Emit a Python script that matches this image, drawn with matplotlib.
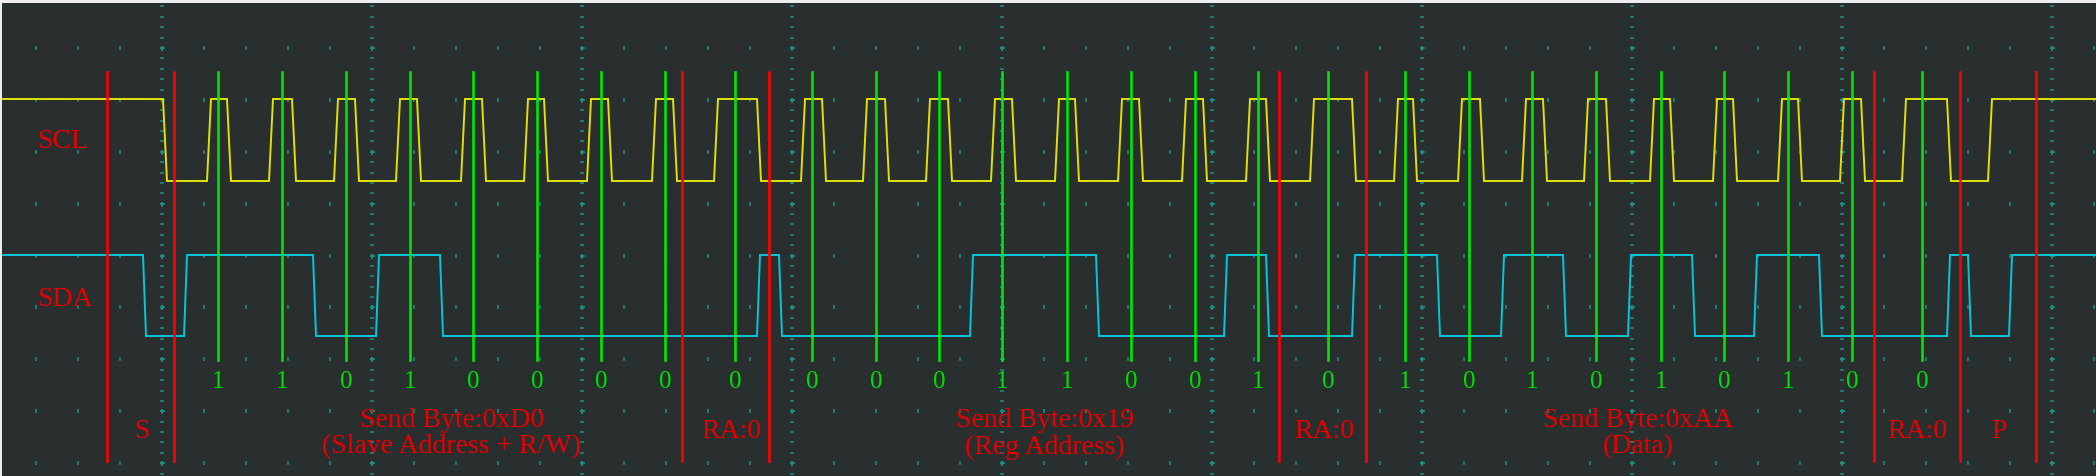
import numpy as np
import matplotlib
matplotlib.use('Agg')
import matplotlib.pyplot as plt

# time axis is in screen samples (one unit per pixel column of the capture)
# SCL high pulses: (rise start, fall start)
scl_pulses = [(207, 227), (269, 292), (334, 355), (396, 417), (461, 482), (524, 544),
              (587, 608), (652, 673), (714, 757),
              (801, 822), (863, 885), (926, 948), (991, 1012), (1055, 1075), (1118, 1139),
              (1182, 1203), (1246, 1266), (1310, 1352),
              (1394, 1413), (1458, 1480), (1522, 1543), (1584, 1606), (1650, 1670),
              (1713, 1733), (1778, 1798), (1840, 1861), (1902, 1947)]
scl_first_fall = 163
scl_last_rise = 1988

# SDA edges (start time), level toggles at each edge, starts high
sda_edges = [143, 184, 313, 376, 440, 757, 779, 970, 1096, 1224, 1266, 1352, 1437,
             1501, 1563, 1628, 1692, 1754, 1819, 1947, 1968, 2009]

# sample points of each bit (green cursors) and decoded values
bit_times = [218, 282, 346, 410, 473, 537, 601, 665, 735,
             812, 876, 939, 1002, 1067, 1131, 1195, 1258, 1328,
             1405, 1469, 1532, 1596, 1661, 1724, 1788, 1852, 1922]
bit_values = ['1', '1', '0', '1', '0', '0', '0', '0', '0',
              '0', '0', '0', '1', '1', '0', '0', '1', '0',
              '1', '0', '1', '0', '1', '0', '1', '0', '0']

# frame boundaries (red cursors)
frame_marks = [107, 174, 682, 769, 1279, 1366, 1874, 1960, 2036]

# frame annotations: (x, text)
frame_labels = [(142, 'S'),
                (452, 'Send Byte:0xD0\n(Slave Address + R/W)'),
                (731, 'RA:0'),
                (1045, 'Send Byte:0x19\n(Reg Address)'),
                (1324, 'RA:0'),
                (1638, 'Send Byte:0xAA\n(Data)'),
                (1917, 'RA:0'),
                (1999, 'P')]

W, H = 2096, 477
BG = '#292e2f'
GRID = '#1f8f86'

# levels on screen
SCL_HI, SCL_LO = 100, 182
SDA_HI, SDA_LO = 256, 337
EDGE = 4


def build_scl():
    xs = [0, scl_first_fall, scl_first_fall + EDGE]
    ys = [SCL_HI, SCL_HI, SCL_LO]
    for r, f in scl_pulses:
        xs += [r, r + EDGE, f, f + EDGE]
        ys += [SCL_LO, SCL_HI, SCL_HI, SCL_LO]
    xs += [scl_last_rise, scl_last_rise + EDGE, W]
    ys += [SCL_LO, SCL_HI, SCL_HI]
    return xs, ys


def build_sda():
    xs, ys = [0], [SDA_HI]
    lvl = SDA_HI
    for e in sda_edges:
        new = SDA_LO if lvl == SDA_HI else SDA_HI
        xs += [e, e + 3]
        ys += [lvl, new]
        lvl = new
    xs.append(W)
    ys.append(lvl)
    return xs, ys


fig = plt.figure(figsize=(W / 100, H / 100), dpi=100)
fig.patch.set_facecolor('#eeeeee')
ax = fig.add_axes([2 / W, 0, 1 - 2 / W, 1 - 4 / H])
ax.set_facecolor(BG)
ax.set_xlim(2, W)
ax.set_ylim(H, 4)
for s in ax.spines.values():
    s.set_visible(False)
ax.set_xticks([])
ax.set_yticks([])

# scope graticule
vmajor = [162 + 210 * k for k in range(10)]
hmajor = [49 + 51.9 * k for k in range(9)]
dash_y = np.arange(49 - 10.38 * 4, H, 10.38)
for x in vmajor:
    ax.plot([x] * len(dash_y), dash_y, ls='none', marker='_', ms=3.2, mew=1.1, color=GRID)
tick_x = np.arange(162 - 42 * 3, W, 42)
for y in hmajor:
    ax.plot(tick_x, [y] * len(tick_x), ls='none', marker='|', ms=3.0, mew=1.1, color=GRID)
    ax.plot(vmajor, [y] * len(vmajor), ls='none', marker='+', ms=3.6, mew=1.1, color=GRID)

# signals
sx, sy = build_scl()
ax.plot(sx, sy, color='#e2e200', lw=1.4, solid_joinstyle='miter')
dx, dy = build_sda()
ax.plot(dx, dy, color='#00c8dc', lw=1.4, solid_joinstyle='miter')

# cursors
for x in bit_times:
    ax.plot([x, x], [73, 361], color='#00e600', lw=1.9)
for x in frame_marks:
    ax.plot([x, x], [73, 462], color='#ff0000', lw=1.9)

font = 'Liberation Serif'
RED = '#e80000'
for x, v in zip(bit_times, bit_values):
    ax.text(x, 382, v, color='#00e000', fontsize=18, family=font, ha='center', va='center')

for x, txt in frame_labels:
    lines = txt.split('\n')
    if len(lines) == 1:
        ax.text(x, 432, lines[0], color=RED, fontsize=20, family=font, ha='center', va='center')
    else:
        ax.text(x, 421, lines[0], color=RED, fontsize=20, family=font, ha='center', va='center')
        ax.text(x, 447, lines[1], color=RED, fontsize=20, family=font, ha='center', va='center')

ax.text(37, 142, 'SCL', color=RED, fontsize=20, family=font, ha='left', va='center')
ax.text(37, 300, 'SDA', color=RED, fontsize=20, family=font, ha='left', va='center')

fig.savefig('out.png', dpi=100, facecolor=fig.get_facecolor())
plt.close(fig)
